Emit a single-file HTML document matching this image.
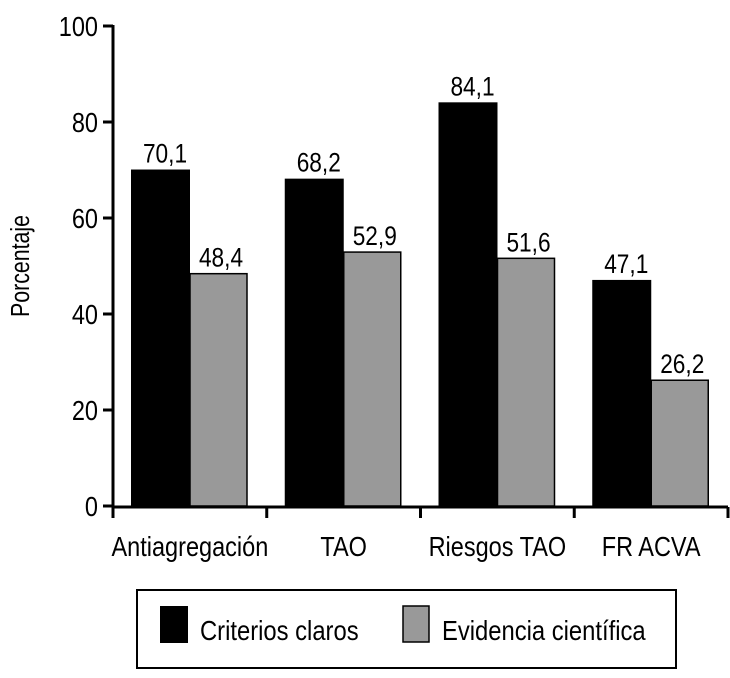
<!DOCTYPE html>
<html><head><meta charset="utf-8"><style>
body{margin:0;background:#fff;}
svg text{font-family:"Liberation Sans",sans-serif;fill:#000;}
</style></head><body>
<svg width="730" height="673" viewBox="0 0 730 673">
<g id="plot"></g>
<g>
<rect x="137" y="590" width="539" height="78" fill="#fff" stroke="#000" stroke-width="2"/>
<rect x="160" y="606" width="28" height="37" fill="#000"/>
<text transform="translate(200,640) scale(0.85,1)" font-size="28">Criterios claros</text>
<rect x="403" y="606" width="26" height="36" fill="#999" stroke="#000" stroke-width="1.5"/>
<text transform="translate(442,640) scale(0.85,1)" font-size="28">Evidencia científica</text>
</g>
<text transform="translate(29,266) rotate(-90) scale(0.82,1)" text-anchor="middle" font-size="26">Porcentaje</text>
</svg>
<script>
const categories=["Antiagregación","TAO","Riesgos TAO","FR ACVA"];
const criterios=[70.1,68.2,84.1,47.1];
const evidencia=[48.4,52.9,51.6,26.2];
const yTicks=[0,20,40,60,80,100];
const NS="http://www.w3.org/2000/svg";
const g=document.getElementById('plot');
const x0=113,x1=728,y0=506,yTop=26;
const y=v=>y0-(v/100)*(y0-yTop);
const gw=(x1-x0)/categories.length;
function mk(t,a,parent){const e=document.createElementNS(NS,t);for(const k in a)e.setAttribute(k,a[k]);(parent||g).appendChild(e);return e;}
function txt(x,yy,anchor,size,str){const e=mk('text',{transform:'translate('+x+','+yy+') scale(0.84,1)','text-anchor':anchor,'font-size':size});e.textContent=str;return e;}
const fmt=v=>v.toFixed(1).replace('.',',');
categories.forEach((c,i)=>{
  const gx=x0+i*gw;
  const b=mk('rect',{x:gx+18,y:y(criterios[i]),width:59,height:y0-y(criterios[i]),fill:'#000'});
  
  
  const r=mk('rect',{x:gx+77,y:y(evidencia[i]),width:57,height:y0-y(evidencia[i]),fill:'#999',stroke:'#000','stroke-width':1.5});
  
  
  const t1=txt(gx+52,y(criterios[i])-7,'middle',27,fmt(criterios[i]));
  
  
  const t2=txt(gx+108,y(evidencia[i])-7,'middle',27,fmt(evidencia[i]));
  
  
  const cl=txt(gx+gw/2,556,'middle',28,c);
  
  
});
for(let i=0;i<=categories.length;i++){
  const tx=x0+i*gw;
  const tk=mk('line',{x1:tx,y1:507,x2:tx,y2:518,stroke:'#000','stroke-width':3});
  
  
}
const xa=mk('line',{x1:x0-1,y1:507,x2:x1,y2:507,stroke:'#000','stroke-width':3});


const ya=mk('line',{x1:x0,y1:yTop-1,x2:x0,y2:508,stroke:'#000','stroke-width':3});


yTicks.forEach(v=>{
  const l=mk('line',{x1:x0-10,y1:y(v),x2:x0,y2:y(v),stroke:'#000','stroke-width':3});
  
  
  const t=txt(x0-15,y(v)+10,'end',28,String(v));
  
  
});
</script>
</body></html>
